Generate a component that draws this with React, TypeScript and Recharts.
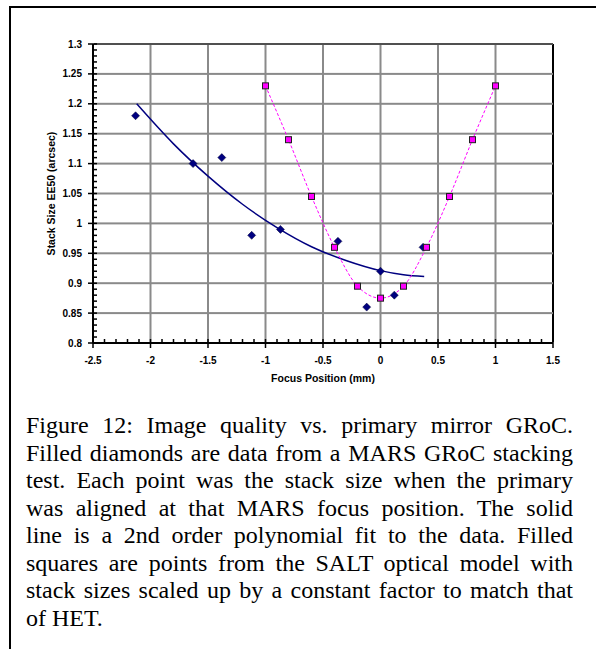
import React from 'react';
import {
  ComposedChart, XAxis, YAxis, Scatter, Line, Label,
} from 'recharts';

// MARS GRoC stacking test (filled diamonds)
const testFocus = [-2.13, -1.63, -1.38, -1.12, -0.87, -0.37, -0.12, 0, 0.12, 0.37];
const testStack = [1.18, 1.10, 1.11, 0.98, 0.99, 0.97, 0.86, 0.92, 0.88, 0.96];

// SALT optical model, scaled (filled squares)
const modelFocus = [-1, -0.8, -0.6, -0.4, -0.2, 0, 0.2, 0.4, 0.6, 0.8, 1];
const modelStack = [1.23, 1.14, 1.045, 0.96, 0.895, 0.875, 0.895, 0.96, 1.045, 1.14, 1.23];

// 2nd order polynomial fit
const fitFocus = [-2.12, -1.8, -1.5, -1.2, -0.9, -0.6, -0.3, 0, 0.2, 0.38];
const fitStack = [1.2, 1.133, 1.079, 1.032, 0.993, 0.961, 0.938, 0.921, 0.914, 0.911];

const xTicks = [-2.5, -2, -1.5, -1, -0.5, 0, 0.5, 1, 1.5];
const yTicks = [0.8, 0.85, 0.9, 0.95, 1, 1.05, 1.1, 1.15, 1.2, 1.25, 1.3];
// minor tick positions (every 0.1 on x, every 0.01 on y)
const xMinor = Array.from({ length: 41 }, (_, i) => -2.5 + i * 0.1);
const yMinor = Array.from({ length: 51 }, (_, i) => 0.8 + i * 0.01);

const captionLines = [
  'Figure 12:  Image quality vs. primary mirror GRoC.',
  'Filled diamonds are data from a MARS GRoC stacking',
  'test.  Each point was the stack size when the primary',
  'was aligned at that MARS focus position.  The solid',
  'line is a 2nd order polynomial fit to the data.  Filled',
  'squares are points from the SALT optical model with',
  'stack sizes scaled up by a constant factor to match that',
  'of HET.',
];

const NAVY = '#000080';
const MAGENTA = '#ff00ff';
const GRID = '#8a8a8a';
const SANS = 'Arial, "Liberation Sans", sans-serif';
const X0 = xTicks[0], X1 = xTicks[xTicks.length - 1];
const Y0 = yTicks[0], Y1 = yTicks[yTicks.length - 1];

// chart layout (shared by the axis layer and the series layer)
const CHART_W = 596, CHART_H = 400;
const MARGIN = { top: 44, right: 43, bottom: 12, left: 0 };
const Y_AXIS_W = 93, X_AXIS_H = 45;
const PLOT_W = CHART_W - MARGIN.left - MARGIN.right - Y_AXIS_W;
const PLOT_H = CHART_H - MARGIN.top - MARGIN.bottom - X_AXIS_H;

const testData = testFocus.map((x, i) => ({ x, y: testStack[i] }));
const modelData = modelFocus.map((x, i) => ({ x, y: modelStack[i] }));
const fitData = fitFocus.map((x, i) => ({ x, y: fitStack[i] }));

const titleStyle = { fontSize: 10.5, fontWeight: 'bold', fill: '#000', fontFamily: SANS };

const majorOf = (list: number[], v: number) => list.find(t => Math.abs(t - v) < 1e-6);

// x ticks: minor inside, major crossing + label + vertical gridline
function XTick(props: any) {
  const { x, y, payload } = props;
  const major = majorOf(xTicks, payload.value);
  if (major === undefined) {
    return <rect x={x - 0.75} y={y - 4} width={1.5} height={4} fill="#000" />;
  }
  return (
    <g>
      {major !== X0 && (
        <rect x={x - 1} y={y - PLOT_H} width={2} height={PLOT_H - 1}
          fill={major === X1 ? '#000' : GRID} />
      )}
      <rect x={x - 0.75} y={y - 4} width={1.5} height={9} fill="#000" />
      <text x={x} y={y + 21} textAnchor="middle" fontSize={10} fontWeight="bold"
        fontFamily={SANS} fill="#000">{String(major)}</text>
    </g>
  );
}

// y ticks: minor inside, major crossing + label + horizontal gridline
function YTick(props: any) {
  const { x, y, payload } = props;
  const major = majorOf(yTicks, payload.value);
  if (major === undefined) {
    return <rect x={x} y={y - 0.75} width={4} height={1.5} fill="#000" />;
  }
  return (
    <g>
      {major !== Y0 && (
        <rect x={x + 1} y={y - 1} width={PLOT_W - 1} height={2}
          fill={major === Y1 ? '#505050' : GRID} />
      )}
      <rect x={x - 5} y={y - 0.75} width={9} height={1.5} fill="#000" />
      <text x={x - 11} y={y + 3.5} textAnchor="end" fontSize={10} fontWeight="bold"
        fontFamily={SANS} fill="#000">{String(major)}</text>
    </g>
  );
}

function Diamond(props: any) {
  const { cx, cy } = props;
  if (cx == null || cy == null) return null;
  const r = 4;
  return (
    <polygon
      points={`${cx},${cy - r} ${cx + r},${cy} ${cx},${cy + r} ${cx - r},${cy}`}
      fill={NAVY}
      stroke="#000033"
      strokeWidth={0.5}
    />
  );
}

function SquareDot(props: any) {
  const { cx, cy } = props;
  if (cx == null || cy == null) return null;
  return (
    <rect x={cx - 3} y={cy - 3} width={6} height={6}
      fill={MAGENTA} stroke="#202020" strokeWidth={1} />
  );
}

const EmptyShape = () => <g />;

export default function App() {
  return (
    <div style={{ position: 'absolute', left: 0, top: 0, width: 596, height: 649, background: '#fff' }}>
      <div style={{
        position: 'absolute', left: 9, top: 6, width: 587, height: 643,
        borderTop: '2px solid #000', borderLeft: '2px solid #000', boxSizing: 'border-box',
      }} />
      {/* axis layer: ticks, labels and gridlines */}
      <div style={{ position: 'absolute', left: 0, top: 0 }}>
        <ComposedChart width={CHART_W} height={CHART_H} margin={MARGIN}>
          <XAxis type="number" dataKey="x" domain={[X0, X1]} ticks={xMinor} interval={0}
            height={X_AXIS_H} tickSize={0} tickMargin={0} tick={<XTick />} tickLine={false}
            axisLine={{ stroke: '#000', strokeWidth: 2 }} allowDataOverflow>
            <Label value="Focus Position (mm)" position="insideBottom" offset={6} style={titleStyle} />
          </XAxis>
          <YAxis type="number" dataKey="y" domain={[Y0, Y1]} ticks={yMinor} interval={0}
            width={Y_AXIS_W} tickSize={0} tickMargin={0} tick={<YTick />} tickLine={false}
            axisLine={{ stroke: '#000', strokeWidth: 2 }} allowDataOverflow>
            <Label value="Stack  Size  EE50  (arcsec)" position="center" angle={-90} dx={5}
              style={{ ...titleStyle, textAnchor: 'middle' }} />
          </YAxis>
          <Scatter data={testData} dataKey="y" shape={<EmptyShape />} isAnimationActive={false} />
        </ComposedChart>
      </div>
      {/* series layer on top, same scales */}
      <div style={{ position: 'absolute', left: 0, top: 0, pointerEvents: 'none' }}>
        <ComposedChart width={CHART_W} height={CHART_H} margin={MARGIN}>
          <XAxis type="number" dataKey="x" domain={[X0, X1]} ticks={xTicks} height={X_AXIS_H}
            tick={false} tickLine={false} axisLine={false} allowDataOverflow />
          <YAxis type="number" dataKey="y" domain={[Y0, Y1]} ticks={yTicks} width={Y_AXIS_W}
            tick={false} tickLine={false} axisLine={false} allowDataOverflow />
          <Line data={fitData} dataKey="y" type="monotone" stroke={NAVY} strokeWidth={1.5}
            dot={false} activeDot={false} isAnimationActive={false} />
          <Scatter data={testData} dataKey="y" shape={<Diamond />} isAnimationActive={false} />
          <Line data={modelData} dataKey="y" type="monotone" stroke={MAGENTA} strokeWidth={1}
            strokeDasharray="3 2" dot={(p: any) => <SquareDot key={p.index} {...p} />}
            activeDot={false} isAnimationActive={false} />
        </ComposedChart>
      </div>
      <div style={{
        position: 'absolute', left: 26, top: 412, width: 547,
        fontFamily: '"Liberation Serif", "Times New Roman", serif', fontSize: 24, lineHeight: '27.5px', color: '#000',
      }}>
        {captionLines.map((line, i) => (
          <div key={i} style={{
            textAlign: i === captionLines.length - 1 ? 'left' : 'justify',
            textAlignLast: i === captionLines.length - 1 ? 'left' : 'justify',
            whiteSpace: 'nowrap',
          }}>{line}</div>
        ))}
      </div>
    </div>
  );
}
